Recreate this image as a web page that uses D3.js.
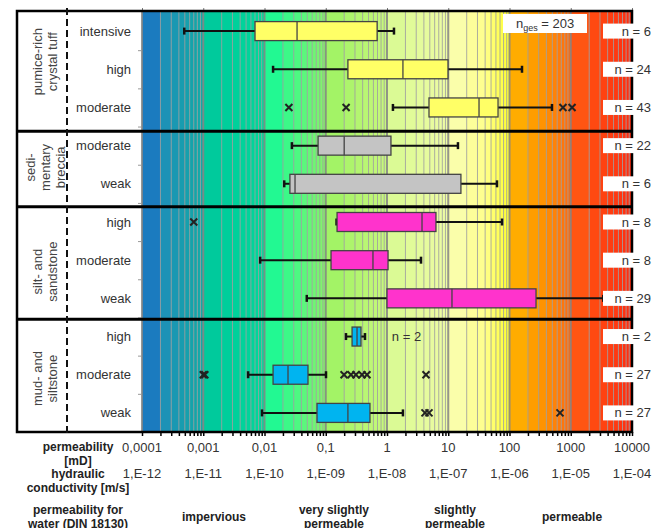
<!DOCTYPE html>
<html>
<head>
<meta charset="utf-8">
<script src="https://cdn.jsdelivr.net/npm/d3@7"></script>
<style>
  body { margin: 0; background: #fff; }
  svg { font-family: "Liberation Sans", Arial, sans-serif; }
</style>
</head>
<body>
<div id="chart"></div>
<script>
// rows, top to bottom
var rowLabels = ["intensive", "high", "moderate", "moderate", "weak", "high", "moderate", "weak", "high", "moderate", "weak"];
var groupNames = [["pumice-rich", "crystal tuff"], ["sedi-", "mentary", "breccia"], ["silt- and", "sandstone"], ["mud- and", "siltstone"]];
var groupSizes = [3, 2, 3, 3];
var groupColors = ["#ffff66", "#c4c4c4", "#ff33cc", "#00b4f0"];

// permeability in mD
var whiskerLow = [0.00049, 0.0138, 1.25, 0.028, 0.021, 0.15, 0.0085, 0.049, 0.214, 0.0054, 0.0091];
var q1 = [0.007, 0.23, 4.85, 0.075, 0.026, 0.153, 0.122, 1.0, 0.269, 0.0138, 0.072];
var median = [0.034, 1.82, 31.8, 0.2, 0.0315, 3.73, 0.59, 11.5, 0.324, 0.0242, 0.23];
var q3 = [0.69, 9.9, 65, 1.16, 16.1, 6.3, 1.04, 271, 0.376, 0.0513, 0.527];
var whiskerHigh = [1.3, 160, 494, 14.4, 62.5, 75.5, 3.59, 3400, 0.437, 0.101, 1.82];
var outliers = [[], [], [0.025, 0.215, 746, 1050], [], [], [0.0007], [], [], [],
  [0.001, 0.00106, 0.199, 0.258, 0.311, 0.391, 0.471, 4.33], [4.17, 4.85, 667]];
var nCounts = [6, 24, 43, 22, 6, 8, 8, 29, 2, 27, 27];
var nTotal = 203;

var permTicks = [0.0001, 0.001, 0.01, 0.1, 1, 10, 100, 1000, 10000];
var permLabels = ["0,0001", "0,001", "0,01", "0,1", "1", "10", "100", "1000", "10000"];
var kfLabels = ["1,E-12", "1,E-11", "1,E-10", "1,E-09", "1,E-08", "1,E-07", "1,E-06", "1,E-05", "1,E-04"];
var classNames = [["impervious"], ["very slightly", "permeable"], ["slightly", "permeable"], ["permeable"]];
var classPos = [0.0015, 0.136, 12.9, 1050];

var width = 656, height = 528;
var svg = d3.select("#chart").append("svg")
  .attr("width", width)
  .attr("height", height);

var x = d3.scaleLog().domain([1e-4, 1e4]).range([142, 632]);
var yRow = d3.scaleLinear().domain([0, 11]).range([12, 432]);
var plotTop = 11, plotBottom = 432, frameLeft = 17, plotRight = 632;

// background colour bands
var bgStops = [[-4, "#1462c6"], [-3.75, "#1f8cba"], [-3.01, "#12aaa6"],
  [-3, "#00c89c"], [-2.01, "#00d89a"],
  [-2, "#12fa98"], [-1.5, "#48f884"], [-1.01, "#86f46a"],
  [-1, "#9cf262"], [-0.01, "#c8f87c"],
  [0, "#d8fa92"], [0.99, "#eefca4"],
  [1, "#f8fdb4"], [1.6, "#ffff8c"], [1.99, "#ffff30"],
  [2, "#ffb600"], [2.5, "#ff9600"], [2.99, "#ff6c10"],
  [3, "#ff5c12"], [4, "#ff2c10"]];
var bgColor = d3.scaleLinear()
  .domain(bgStops.map(function (d) { return d[0]; }))
  .range(bgStops.map(function (d) { return d[1]; }));

var minor = [];
for (var e = -4; e < 4; e++) {
  for (var k = 1; k <= 9; k++) minor.push(k * Math.pow(10, e));
}
minor.push(1e4);

svg.append("g").selectAll("rect")
  .data(minor.slice(0, -1))
  .enter().append("rect")
  .attr("x", function (d) { return x(d); })
  .attr("y", plotTop)
  .attr("width", function (d, i) { return x(minor[i + 1]) - x(d) + 0.5; })
  .attr("height", plotBottom - plotTop)
  .attr("fill", function (d, i) { return bgColor((Math.log10(d) + Math.log10(minor[i + 1])) / 2); });

// grid lines
svg.append("g").selectAll("line")
  .data(minor)
  .enter().append("line")
  .attr("x1", function (d) { return x(d); })
  .attr("x2", function (d) { return x(d); })
  .attr("y1", plotTop)
  .attr("y2", plotBottom)
  .attr("stroke", function (d) { return permTicks.indexOf(d) >= 0 ? "#858585" : "#a0a0a0"; })
  .attr("stroke-width", function (d) { return permTicks.indexOf(d) >= 0 ? 2 : 1; })
  .attr("opacity", 0.85);

// axes ticks
svg.append("g")
  .attr("transform", "translate(0," + plotBottom + ")")
  .call(d3.axisBottom(x).tickValues(minor).tickSize(4).tickFormat(""))
  .call(function (g) { g.select(".domain").remove(); g.selectAll("line").attr("stroke-width", 1.5); });
svg.append("g")
  .attr("transform", "translate(0," + plotTop + ")")
  .call(d3.axisTop(x).tickValues(permTicks).tickSize(3).tickFormat(""))
  .call(function (g) { g.select(".domain").remove(); g.selectAll("line").attr("stroke", "#777"); });
svg.append("g")
  .attr("transform", "translate(142,0)")
  .call(d3.axisLeft(yRow).tickValues(d3.range(1, 11)).tickSize(4).tickFormat(""))
  .call(function (g) { g.select(".domain").remove(); g.selectAll("line").attr("stroke", "#999"); });

// boxes
var rowColor = [];
groupSizes.forEach(function (s, gi) { for (var i = 0; i < s; i++) rowColor.push(groupColors[gi]); });

var rows = svg.append("g").selectAll("g")
  .data(rowLabels)
  .enter().append("g")
  .attr("transform", function (d, i) { return "translate(0," + yRow(i + 0.5) + ")"; });

rows.append("line")
  .attr("x1", function (d, i) { return x(whiskerLow[i]); })
  .attr("x2", function (d, i) { return x(whiskerHigh[i]); })
  .attr("stroke", "#111").attr("stroke-width", 2);
[whiskerLow, whiskerHigh].forEach(function (arr) {
  rows.append("line")
    .attr("x1", function (d, i) { return x(arr[i]); })
    .attr("x2", function (d, i) { return x(arr[i]); })
    .attr("y1", -3.5).attr("y2", 3.5)
    .attr("stroke", "#111").attr("stroke-width", 2.5);
});
rows.append("rect")
  .attr("x", function (d, i) { return x(q1[i]); })
  .attr("width", function (d, i) { return x(q3[i]) - x(q1[i]); })
  .attr("y", -9.5).attr("height", 19)
  .attr("fill", function (d, i) { return rowColor[i]; })
  .attr("stroke", "#444").attr("stroke-width", 1.3);
rows.append("line")
  .attr("x1", function (d, i) { return x(median[i]); })
  .attr("x2", function (d, i) { return x(median[i]); })
  .attr("y1", -9.5).attr("y2", 9.5)
  .attr("stroke", "#444").attr("stroke-width", 1.3);

rows.each(function (d, i) {
  d3.select(this).selectAll("path.out")
    .data(outliers[i])
    .enter().append("path")
    .attr("class", "out")
    .attr("d", function (v) { var c = x(v); return "M" + (c - 3.5) + ",-3.5L" + (c + 3.5) + ",3.5M" + (c - 3.5) + ",3.5L" + (c + 3.5) + ",-3.5"; })
    .attr("stroke", "#222").attr("stroke-width", 2).attr("fill", "none");
});

// "n = 2" inside plot for the small sample
svg.append("text")
  .attr("x", x(1.2)).attr("y", yRow(8.5) + 4.5)
  .attr("font-size", 13).attr("fill", "#333")
  .text("n = 2");

// frame and group separators
svg.append("rect")
  .attr("x", frameLeft).attr("y", plotTop)
  .attr("width", plotRight - frameLeft).attr("height", plotBottom - plotTop)
  .attr("fill", "none").attr("stroke", "#000").attr("stroke-width", 2.5);
var sepAt = [3.125, 5.1, 8.05];
svg.append("g").selectAll("line")
  .data(sepAt)
  .enter().append("line")
  .attr("x1", frameLeft).attr("x2", plotRight)
  .attr("y1", function (d) { return yRow(d); })
  .attr("y2", function (d) { return yRow(d); })
  .attr("stroke", "#000").attr("stroke-width", 3);
svg.append("line")
  .attr("x1", 67).attr("x2", 67)
  .attr("y1", 8).attr("y2", plotBottom + 3)
  .attr("stroke", "#111").attr("stroke-width", 2)
  .attr("stroke-dasharray", "7,4");

// row labels
svg.append("g").selectAll("text")
  .data(rowLabels)
  .enter().append("text")
  .attr("x", 131)
  .attr("y", function (d, i) { return yRow(i + 0.5) + 4.5; })
  .attr("text-anchor", "end")
  .attr("font-size", 13).attr("fill", "#333")
  .text(function (d) { return d; });

// group labels (rotated)
var labelRow = [1.3, 4.07, 6.8, 9.6];
groupNames.forEach(function (lines, gi) {
  var t = svg.append("text")
    .attr("transform", "translate(45," + yRow(labelRow[gi]) + ") rotate(-90)")
    .attr("text-anchor", "middle")
    .attr("font-size", 13).attr("fill", "#444");
  lines.forEach(function (l, li) {
    t.append("tspan")
      .attr("x", 0)
      .attr("y", (li - (lines.length - 1) / 2) * 15 + 4.5)
      .text(l);
  });
});

// n labels on the right
var nG = svg.append("g").selectAll("g")
  .data(nCounts)
  .enter().append("g")
  .attr("transform", function (d, i) { return "translate(0," + yRow(i + 0.5) + ")"; });
nG.append("rect")
  .attr("x", 603).attr("y", -7.5).attr("width", 52).attr("height", 15)
  .attr("fill", "#fff");
nG.append("text")
  .attr("x", 651).attr("y", 4.5)
  .attr("text-anchor", "end")
  .attr("font-size", 13).attr("fill", "#333")
  .text(function (d) { return "n = " + d; });

svg.append("rect")
  .attr("x", 503).attr("y", 14).attr("width", 84).attr("height", 19)
  .attr("fill", "#fff");
var ng = svg.append("text")
  .attr("x", 516).attr("y", 28)
  .attr("font-size", 13).attr("fill", "#333");
ng.append("tspan").text("n");
ng.append("tspan").attr("font-size", 9).attr("dy", 3).text("ges");
ng.append("tspan").attr("dy", -3).text(" = " + nTotal);

// bottom tick labels
svg.append("g").selectAll("text")
  .data(permTicks)
  .enter().append("text")
  .attr("x", function (d) { return x(d); })
  .attr("y", 452)
  .attr("text-anchor", "middle")
  .attr("font-size", 13).attr("fill", "#333")
  .text(function (d, i) { return permLabels[i]; });
svg.append("g").selectAll("text")
  .data(permTicks)
  .enter().append("text")
  .attr("x", function (d) { return x(d); })
  .attr("y", 478)
  .attr("text-anchor", "middle")
  .attr("font-size", 13).attr("fill", "#333")
  .text(function (d, i) { return kfLabels[i]; });

// left axis titles
var titles = [[["permeability", 451], ["[mD]", 465]], [["hydraulic", 478], ["conductivity [m/s]", 492]],
  [["permeability for", 514], ["water (DIN 18130)", 528]]];
titles.forEach(function (tl) {
  tl.forEach(function (t) {
    svg.append("text")
      .attr("x", 78).attr("y", t[1])
      .attr("text-anchor", "middle")
      .attr("font-size", 12).attr("font-weight", "bold").attr("fill", "#222")
      .text(t[0]);
  });
});

// permeability classes
classNames.forEach(function (lines, ci) {
  lines.forEach(function (l, li) {
    svg.append("text")
      .attr("x", x(classPos[ci]))
      .attr("y", lines.length === 1 ? 521 : 514 + li * 14)
      .attr("text-anchor", "middle")
      .attr("font-size", 12).attr("font-weight", "bold").attr("fill", "#222")
      .text(l);
  });
});
</script>
</body>
</html>
